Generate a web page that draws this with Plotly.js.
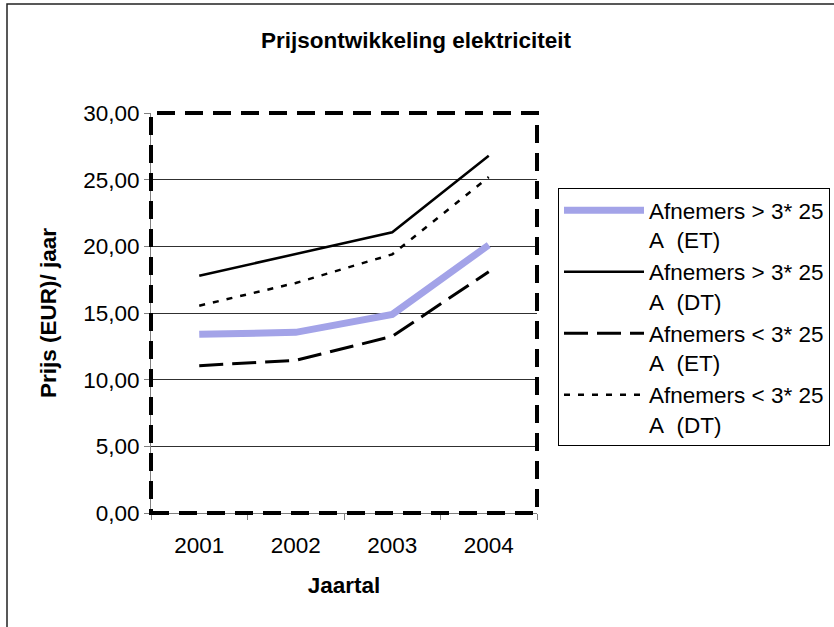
<!DOCTYPE html>
<html>
<head>
<meta charset="utf-8">
<script src="https://cdn.plot.ly/plotly-3.0.1.min.js"></script>
<style>
  html, body { margin: 0; padding: 0; background: #ffffff; }
  #chart { width: 834px; height: 627px; }
</style>
</head>
<body>
<div id="chart"></div>
<script>
// Categories (years)
const years = ['2001', '2002', '2003', '2004'];

// Series values (Prijs EUR / jaar)
const afnemersGrootET = [13.40, 13.55, 14.90, 20.10];
const afnemersGrootDT = [17.80, 19.40, 21.05, 26.80];
const afnemersKleinET = [11.05, 11.45, 13.25, 18.10];
const afnemersKleinDT = [15.55, 17.25, 19.40, 25.20];

// Legend labels
const seriesNames = [
  'Afnemers &gt; 3* 25<br>A\u00a0 (ET)',
  'Afnemers &gt; 3* 25<br>A\u00a0 (DT)',
  'Afnemers &lt; 3* 25<br>A\u00a0 (ET)',
  'Afnemers &lt; 3* 25<br>A\u00a0 (DT)'
];

const FONT = 'Liberation Sans, Arial, sans-serif';
const FS = 22.5;

const traces = [
  { x: years, y: afnemersGrootET, name: seriesNames[0], type: 'scatter', mode: 'lines',
    line: { color: '#a3a3e8', width: 7 } },
  { x: years, y: afnemersGrootDT, name: seriesNames[1], type: 'scatter', mode: 'lines',
    line: { color: '#000000', width: 2.5 } },
  { x: years, y: afnemersKleinET, name: seriesNames[2], type: 'scatter', mode: 'lines',
    line: { color: '#000000', width: 3, dash: '24px,9px' } },
  { x: years, y: afnemersKleinDT, name: seriesNames[3], type: 'scatter', mode: 'lines',
    line: { color: '#000000', width: 2.5, dash: '6px,8px' } }
];

const L = 151, R = 537, T = 113, B = 513, W = 834, H = 627;
const fx = v => v / W;
const fy = v => 1 - v / H;

const layout = {
  width: W, height: H,
  margin: { l: 0, r: 0, t: 0, b: 0, pad: 0 },
  paper_bgcolor: '#ffffff',
  plot_bgcolor: '#ffffff',
  separators: ',.',
  font: { family: FONT, size: FS, color: '#000000' },
  title: {
    text: '<b>Prijsontwikkeling elektriciteit</b>',
    font: { family: FONT, size: FS, color: '#000000' },
    x: fx(416), xanchor: 'center', xref: 'container',
    y: fy(40), yanchor: 'middle', yref: 'container'
  },
  showlegend: true,
  legend: {
    x: fx(558), xanchor: 'left',
    y: fy(188), yanchor: 'top',
    bgcolor: '#ffffff', bordercolor: '#000000', borderwidth: 1,
    font: { family: FONT, size: FS, color: '#000000' },
    itemwidth: 80,
    valign: 'top',
    traceorder: 'normal',
    tracegroupgap: 0
  },
  xaxis: {
    domain: [fx(L), fx(R)],
    type: 'category',
    range: [-0.5, 3.5],
    showgrid: false,
    zeroline: false,
    showline: true, linecolor: '#808080', linewidth: 1,
    ticks: 'outside', tickson: 'boundaries', ticklen: 6, tickcolor: '#808080',
    tickfont: { family: FONT, size: FS, color: '#000000' },
    ticklabelstandoff: 12,
    title: { text: '<b>Jaartal</b>', font: { family: FONT, size: FS, color: '#000000' }, standoff: 20 },
    automargin: false,
    fixedrange: true
  },
  yaxis: {
    domain: [fy(B), fy(T)],
    range: [0, 30],
    dtick: 5,
    tickformat: '.2f',
    showgrid: true, gridcolor: '#303030', gridwidth: 1,
    zeroline: false,
    showline: true, linecolor: '#808080', linewidth: 1,
    ticks: 'outside', ticklen: 6, tickcolor: '#808080',
    tickfont: { family: FONT, size: FS, color: '#000000' },
    title: { text: '<b>Prijs (EUR)/ jaar</b>', font: { family: FONT, size: FS, color: '#000000' }, standoff: 20 },
    automargin: false,
    fixedrange: true
  },
  shapes: [
    // dashed plot-area border
    { type: 'rect', xref: 'paper', yref: 'paper', x0: fx(L), x1: fx(R), y0: fy(B), y1: fy(T),
      line: { color: '#000000', width: 4, dash: '18px,10px' }, fillcolor: 'rgba(0,0,0,0)', layer: 'above' },
    // outer chart border
    { type: 'rect', xref: 'paper', yref: 'paper', x0: fx(7), x1: fx(845), y0: fy(645), y1: fy(4),
      line: { color: '#222222', width: 1.5 }, fillcolor: 'rgba(0,0,0,0)', layer: 'below' }
  ]
};

Plotly.newPlot('chart', traces, layout, { displayModeBar: false, staticPlot: true });
</script>
</body>
</html>
